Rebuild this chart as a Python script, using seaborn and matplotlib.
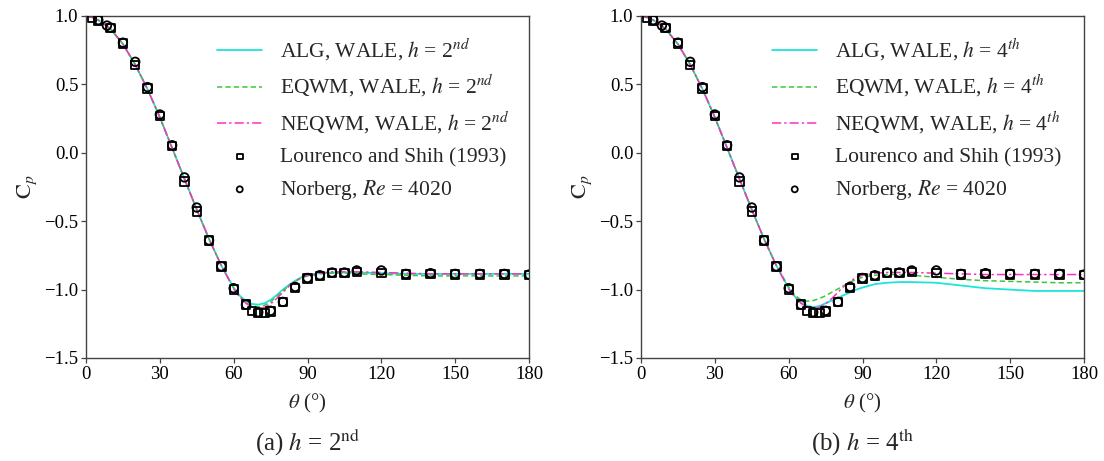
import numpy as np
import pandas as pd
import matplotlib
matplotlib.use("Agg")
import matplotlib.pyplot as plt
import seaborn as sns

# ---------------- data ----------------
theta_sim = [0, 2.5, 5, 7.5, 10, 15, 20, 25, 30, 35, 40, 45, 50, 55, 60, 62.5, 65, 67.5, 70,
             72.5, 75, 77.5, 80, 82.5, 85, 87.5, 90, 95, 100, 105, 110, 120, 130, 140, 150,
             160, 170, 180]

# common upstream part (0 .. 55 deg) of all simulations
cp_front = [1.0, 0.99, 0.97, 0.94, 0.905, 0.795, 0.645, 0.465, 0.26, 0.035, -0.19, -0.415,
            -0.63, -0.825]

alg_a_tail = [-0.985, -1.045, -1.085, -1.105, -1.11, -1.10, -1.075, -1.04, -1.0, -0.965,
              -0.935, -0.91, -0.895, -0.88, -0.875, -0.875, -0.875, -0.88, -0.885, -0.885,
              -0.885, -0.885, -0.885, -0.885]
eqwm_a_tail = [-0.99, -1.05, -1.095, -1.12, -1.125, -1.115, -1.09, -1.05, -1.01, -0.97,
               -0.94, -0.915, -0.90, -0.885, -0.88, -0.88, -0.885, -0.89, -0.895, -0.9,
               -0.9, -0.9, -0.9, -0.9]
neqwm_a_tail = [-0.995, -1.055, -1.10, -1.13, -1.14, -1.13, -1.105, -1.065, -1.02, -0.975,
                -0.94, -0.91, -0.895, -0.88, -0.87, -0.87, -0.87, -0.875, -0.88, -0.885,
                -0.885, -0.885, -0.885, -0.885]

alg_b_tail = [-0.99, -1.05, -1.095, -1.12, -1.127, -1.12, -1.10, -1.08, -1.06, -1.04,
              -1.02, -1.0, -0.985, -0.96, -0.95, -0.945, -0.945, -0.95, -0.97, -0.99,
              -1.0, -1.01, -1.01, -1.01]
eqwm_b_tail = [-0.98, -1.04, -1.075, -1.085, -1.08, -1.065, -1.045, -1.02, -0.995, -0.97,
               -0.945, -0.925, -0.91, -0.895, -0.89, -0.89, -0.895, -0.91, -0.925, -0.935,
               -0.94, -0.945, -0.95, -0.95]
neqwm_b_tail = [-0.995, -1.055, -1.10, -1.13, -1.14, -1.13, -1.105, -1.065, -1.02, -0.975,
                -0.94, -0.91, -0.895, -0.88, -0.875, -0.875, -0.875, -0.88, -0.885, -0.89,
                -0.89, -0.89, -0.89, -0.89]

theta_ls = [2.5, 5, 10, 15, 20, 25, 30, 35, 40, 45, 50, 55, 60, 65, 67.5, 70, 72.5, 75, 80,
            85, 90, 95, 100, 105, 110, 120, 130, 140, 150, 160, 170, 180]
cp_ls = [0.985, 0.968, 0.91, 0.80, 0.64, 0.47, 0.27, 0.05, -0.21, -0.43, -0.64, -0.83, -1.00,
         -1.11, -1.155, -1.17, -1.17, -1.16, -1.09, -0.99, -0.92, -0.90, -0.88, -0.88, -0.87,
         -0.88, -0.89, -0.885, -0.89, -0.89, -0.89, -0.895]

theta_nb = [5, 8.5, 10, 15, 20, 25, 30, 35, 40, 45, 50, 55, 60, 65, 70, 75, 80, 85, 90, 95,
            100, 105, 110, 120, 130, 140, 150, 160, 170, 180]
cp_nb = [0.97, 0.93, 0.915, 0.805, 0.665, 0.48, 0.28, 0.055, -0.18, -0.40, -0.64, -0.83,
         -0.99, -1.11, -1.165, -1.155, -1.09, -0.98, -0.915, -0.895, -0.875, -0.875, -0.86,
         -0.86, -0.885, -0.88, -0.885, -0.885, -0.885, -0.89]

panels = [
    ("2", "nd", alg_a_tail, eqwm_a_tail, neqwm_a_tail, "(a)"),
    ("4", "th", alg_b_tail, eqwm_b_tail, neqwm_b_tail, "(b)"),
]

# ---------------- style ----------------
sns.set_style("ticks")
plt.rcParams["font.family"] = ["Liberation Serif", "DejaVu Serif"]
plt.rcParams["mathtext.fontset"] = "stix"
plt.rcParams["axes.edgecolor"] = "#444444"
plt.rcParams["xtick.color"] = "#444444"
plt.rcParams["ytick.color"] = "#444444"
plt.rcParams["xtick.labelcolor"] = "black"
plt.rcParams["ytick.labelcolor"] = "black"

c_alg = "#1de5d8"
c_eq = "#3cc83c"
c_neq = "#ff2fc0"

fig = plt.figure(figsize=(11.04, 4.61), dpi=100)
ax_w = 443 / 1104
ax_h = 342 / 461
bottom = 1 - 358 / 461
lefts = [86 / 1104, 641 / 1104]

for (num, sup, alg_t, eq_t, neq_t, tag), left in zip(panels, lefts):
    ax = fig.add_axes([left, bottom, ax_w, ax_h])
    df = pd.DataFrame({
        "theta": theta_sim,
        "alg": cp_front + alg_t,
        "eq": cp_front + eq_t,
        "neq": cp_front + neq_t,
    })
    hlab = r"$h$ = " + num + r"$^{" + sup + r"}$"
    sns.lineplot(data=df, x="theta", y="alg", ax=ax, color=c_alg, lw=1.3,
                 label="ALG, WALE, " + hlab)
    sns.lineplot(data=df, x="theta", y="eq", ax=ax, color=c_eq, lw=1.1,
                 linestyle=(0, (3.5, 2)), label="EQWM, WALE, " + hlab)
    sns.lineplot(data=df, x="theta", y="neq", ax=ax, color=c_neq, lw=1.1,
                 linestyle=(0, (6, 2, 1.5, 2)), label="NEQWM, WALE, " + hlab)
    sns.scatterplot(x=theta_ls, y=cp_ls, ax=ax, marker="s", s=36, facecolor="none",
                    edgecolor="black", linewidth=1.3, label="Lourenco and Shih (1993)",
                    zorder=5)
    sns.scatterplot(x=theta_nb, y=cp_nb, ax=ax, marker="o", s=38, facecolor="none",
                    edgecolor="black", linewidth=1.3, label=r"Norberg, $Re$ = 4020",
                    zorder=5)

    ax.set_xlim(0, 180)
    ax.set_ylim(-1.5, 1.0)
    ax.set_xticks([0, 30, 60, 90, 120, 150, 180])
    ax.set_yticks([-1.5, -1.0, -0.5, 0.0, 0.5, 1.0])
    ax.tick_params(labelsize=13.5, length=3.5, width=0.9, pad=2)
    for sp in ax.spines.values():
        sp.set_linewidth(1.0)
    ax.set_xlabel(r"$\theta$ (°)", fontsize=15, labelpad=7)
    ax.set_ylabel(r"$\mathrm{C}_p$", fontsize=16, labelpad=4)

    ax.legend(loc="upper left", bbox_to_anchor=(0.296, 0.94), frameon=False,
              fontsize=15.5, handlelength=2.1, handletextpad=0.84, labelspacing=0.5,
              borderpad=0, borderaxespad=0, markerscale=0.7)

    ax.text(0.5, -0.245, tag + r" $h$ = " + num + r"$^{\mathrm{" + sup + r"}}$",
            transform=ax.transAxes, ha="center", va="center", fontsize=18)

fig.savefig("out.png", dpi=100)
